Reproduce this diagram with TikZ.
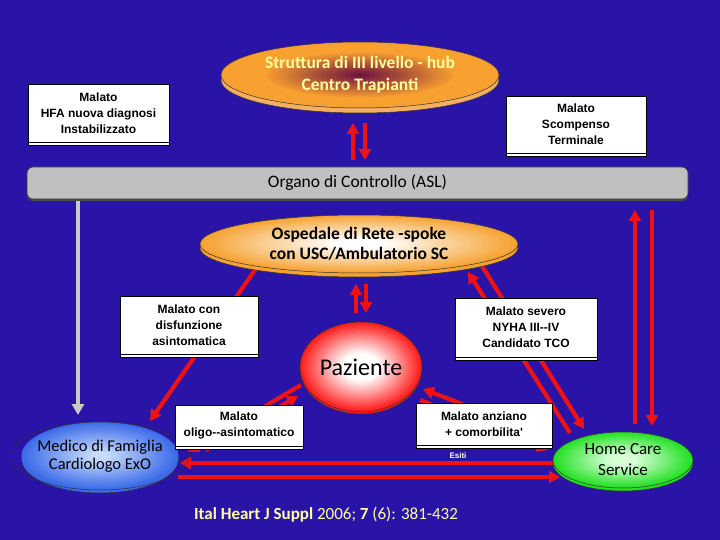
\documentclass[tikz,border=0pt]{standalone}
\usepackage{fontspec}
\setmainfont{Carlito}
\newfontfamily\boxfont{Liberation Sans}
\usetikzlibrary{arrows.meta,calc,shapes.geometric,shadows}

\definecolor{bgblue}{HTML}{2A14A8}
\definecolor{redarr}{HTML}{F01212}
\definecolor{grayarr}{HTML}{C8C8C8}
\definecolor{paleyel}{HTML}{FFFFA0}
\definecolor{aslgray}{HTML}{C0C0C0}
\definecolor{hubin}{HTML}{6A0E40}
\definecolor{hubout}{HTML}{F8A030}
\definecolor{hubshadow}{HTML}{F4B060}
\definecolor{ospout}{HTML}{F6A232}
\definecolor{pazout}{HTML}{FF1A1A}
\definecolor{medin}{HTML}{C8DCFF}
\definecolor{medout}{HTML}{3A6AE8}
\definecolor{homein}{HTML}{D8FFD8}
\definecolor{homeout}{HTML}{22E022}

% gradient fill of an ellipse round a node: node, rx, ry, inner, outer, start, end
\newcommand{\gradoval}[7]{%
  \foreach \k in {0,...,39}{%
    \pgfmathsetmacro\myf{1-\k/40}%
    \pgfmathtruncatemacro\myp{max(0,min(100,100*(\myf-#6)/(#7-#6)))}%
    \fill[#5!\myp!#4] (#1) ellipse [x radius=\myf*#2, y radius=\myf*#3];
  }}

\pgfdeclarelayer{bg}
\pgfdeclarelayer{shad}
\pgfsetlayers{bg,shad,main}

\tikzset{
  wbox/.style={rectangle, draw=black, line width=0.6pt, fill=white, inner sep=0pt,
    align=center, text=black, font=\boxfont\bfseries\fontsize{12}{16}\selectfont,
    drop shadow={shadow xshift=0pt, shadow yshift=-3pt, fill=white, draw=black, line width=0.5pt, opacity=1}},
  oval/.style={ellipse, inner sep=0pt, draw=black!80, line width=0.5pt, align=center},
  ovalshadow/.style={draw=black!80, line width=0.5pt},
  redline/.style={draw=redarr, line width=4.2pt, -{Triangle[width=12pt,length=11pt]}},
  grayline/.style={draw=grayarr, line width=4.2pt, -{Triangle[width=12pt,length=11pt]}}
}

\begin{document}
\begin{tikzpicture}[x=1pt,y=-1pt]
\begin{pgfonlayer}{bg}
\fill[bgblue] (0,0) rectangle (720,540);
\end{pgfonlayer}
\useasboundingbox (0,0) rectangle (720,540);

% ellipses
\node[oval, minimum width=278, minimum height=66,
  text=paleyel, font=\bfseries\fontsize{17.5}{22}\selectfont] (hub) at (360,75)
  {Struttura di III livello - hub\\Centro Trapianti};

\node[rectangle, rounded corners=6pt, draw=black!80, line width=0.6pt, fill=aslgray,
  minimum width=661, minimum height=32, inner sep=0pt,
  drop shadow={shadow xshift=0pt, shadow yshift=-2pt, fill=black!70, opacity=1},
  font=\fontsize{17.5}{20}\selectfont] (asl) at (357.5,183) {Organo di Controllo (ASL)};

\node[oval, minimum width=318, minimum height=58,
  font=\bfseries\fontsize{17.5}{20.5}\selectfont] (osp) at (359,244)
  {Ospedale di Rete -spoke\\con USC/Ambulatorio SC};

\node[oval, minimum width=122, minimum height=90,
  font=\fontsize{24}{26}\selectfont] (paz) at (361,367) {Paziente};

\node[oval, minimum width=157, minimum height=68,
  font=\fontsize{16.5}{18}\selectfont] (med) at (100,456) {Medico di Famiglia\\Cardiologo ExO};

\node[oval, minimum width=140, minimum height=56,
  font=\fontsize{17}{21}\selectfont] (home) at (623,460) {Home Care\\Service};

% ellipse shadows and gradient fills
\begin{pgfonlayer}{shad}
\path[ovalshadow, fill=hubshadow] ($(hub)+(0,5)$) ellipse [x radius=139, y radius=33];
\path[ovalshadow, fill=ospout] ($(osp)+(0,4)$) ellipse [x radius=159, y radius=29];
\path[ovalshadow, fill=pazout] ($(paz)+(0,2)$) ellipse [x radius=61, y radius=45];
\path[ovalshadow, fill=medout] ($(med)+(0,3)$) ellipse [x radius=78.5, y radius=34];
\path[ovalshadow, fill=homeout] ($(home)+(0,3)$) ellipse [x radius=70, y radius=28];
\gradoval{hub}{139}{33}{hubin}{hubout}{0}{0.7}
\gradoval{osp}{159}{29}{white}{ospout}{0.15}{1}
\gradoval{paz}{61}{45}{white}{pazout}{0.3}{1}
\gradoval{med}{78.5}{34}{medin}{medout}{0.1}{1}
\gradoval{home}{70}{28}{homein}{homeout}{0.2}{1}
\end{pgfonlayer}

% boxes
\node[wbox, minimum width=141, minimum height=58] (hfa) at (98.5,113)
  {Malato\\HFA nuova diagnosi\\Instabilizzato};
\node[wbox, minimum width=140, minimum height=57] (term) at (576,124.5)
  {Malato\\Scompenso\\Terminale};
\node[wbox, minimum width=138, minimum height=58] (disf) at (189,325)
  {Malato con\\disfunzione\\asintomatica};
\node[wbox, minimum width=142, minimum height=59] (sev) at (526,327.5)
  {Malato severo\\NYHA III--IV\\Candidato TCO};
\node[wbox, minimum width=128, minimum height=41] (oligo) at (239,425.5)
  {Malato\\oligo--asintomatico};
\node[wbox, minimum width=136, minimum height=42] (anz) at (484,424)
  {Malato anziano\\+ comorbilita'};

\node[text=white, font=\boxfont\bfseries\fontsize{8}{8}\selectfont, inner sep=0pt] (esiti) at (458,456) {Esiti};

\node[text=paleyel, font=\fontsize{17}{19}\selectfont, inner sep=0pt] (cit) at (326,515)
  {\textbf{Ital Heart J Suppl} 2006; \textbf{7} (6): 381-432};

% connectors
\begin{pgfonlayer}{bg}
\draw[redline] ($(asl)+(-4.5,-23)$) -- ($(hub)+(-7,48)$);
\draw[redline] ($(hub)+(5,48)$) -- ($(asl)+(7.5,-23)$);
\draw[redline] ($(paz)+(-5,-54)$) -- ($(osp)+(-3,40)$);
\draw[redline] ($(osp)+(7,40)$) -- ($(paz)+(5,-54)$);
\draw[redline] ($(osp)+(-102,23)$) -- ($(med)+(50,-35)$);
\draw[redline] ($(paz)+(-60,18)$) -- ($(med)+(88,-4)$);
\draw[redline] ($(med)+(106,-6)$) -- ($(paz)+(-63,29)$);
\draw[redline] ($(home)+(-70,3)$) -- ($(med)+(80,7)$);
\draw[redline] ($(med)+(78,21)$) -- ($(home)+(-63,17)$);
\draw[redline] ($(home)+(-73,-22)$) -- ($(paz)+(62,22)$);
\draw[redline] ($(paz)+(59,33)$) -- ($(home)+(-75,-10)$);
\draw[redline] ($(home)+(-53,-27)$) -- ($(osp)+(109,28)$);
\draw[redline] ($(osp)+(123,22)$) -- ($(home)+(-39,-31)$);
\draw[redline] ($(home)+(12,-36)$) -- ($(asl)+(277.5,27)$);
\draw[redline] ($(asl)+(294.5,27)$) -- ($(home)+(29,-34)$);
\draw[grayline] ($(asl)+(-279.5,17)$) -- ($(med)+(-22,-41)$);
\end{pgfonlayer}
\end{tikzpicture}
\end{document}
